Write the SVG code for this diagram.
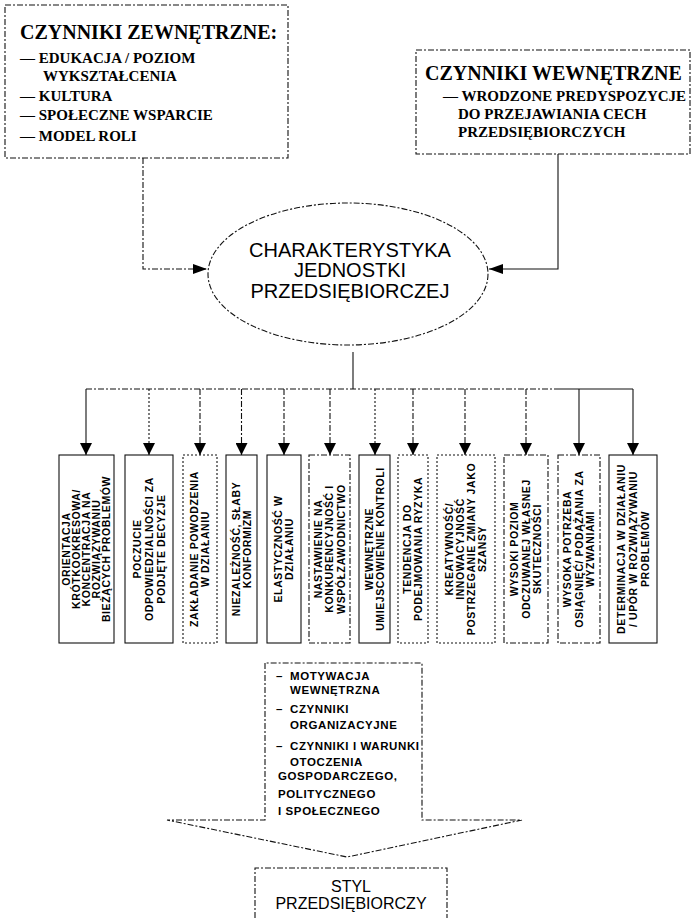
<svg xmlns="http://www.w3.org/2000/svg" width="695" height="918" viewBox="0 0 695 918">
<defs>
<style>
.bx{fill:none;stroke:#111;stroke-width:1.1}
.d{stroke-dasharray:6 2 2 2}
.dt{stroke-dasharray:2 2}
.ln{fill:none;stroke:#111;stroke-width:1.1}
.ttl{font-family:"Liberation Serif","Times New Roman",serif;font-weight:bold;font-size:20px;fill:#000}
.itm{font-family:"Liberation Serif","Times New Roman",serif;font-weight:bold;font-size:15px;fill:#000}
.ell{font-family:"Liberation Sans",Arial,sans-serif;font-size:20px;fill:#000;text-anchor:middle}
.vt{font-family:"Liberation Sans",Arial,sans-serif;font-weight:bold;font-size:10.5px;letter-spacing:0.6px;fill:#000;text-anchor:middle}
.mt{font-family:"Liberation Sans",Arial,sans-serif;font-weight:bold;font-size:11.5px;letter-spacing:0.6px;fill:#000}
.st{font-family:"Liberation Sans",Arial,sans-serif;font-size:16px;fill:#000;text-anchor:middle}
</style>
<marker id="ah" viewBox="0 0 12 12" refX="12" refY="6" markerWidth="12" markerHeight="12" markerUnits="userSpaceOnUse" orient="auto"><path d="M0,0 L12,6 L0,12 z" fill="#000"/></marker>
<marker id="ahs" viewBox="0 0 14 10" refX="14" refY="5" markerWidth="14" markerHeight="10" markerUnits="userSpaceOnUse" orient="auto"><path d="M0,0 L14,5 L0,10 z" fill="#000"/></marker>
</defs>
<rect width="695" height="918" fill="#fff"/>

<g id="external">
<rect class="bx d" x="5" y="5" width="283" height="153"/>
<text class="ttl" x="20" y="39">CZYNNIKI ZEWNĘTRZNE:</text>
<text class="itm" x="20" y="63">— EDUKACJA / POZIOM</text>
<text class="itm" x="43" y="81">WYKSZTAŁCENIA</text>
<text class="itm" x="20" y="101">— KULTURA</text>
<text class="itm" x="20" y="120">— SPOŁECZNE WSPARCIE</text>
<text class="itm" x="20" y="141">— MODEL ROLI</text>
</g>

<g id="internal">
<rect class="bx d" x="416" y="50" width="274" height="104"/>
<text class="ttl" x="425" y="80">CZYNNIKI WEWNĘTRZNE</text>
<text class="itm" x="443" y="101">— WRODZONE PREDYSPOZYCJE</text>
<text class="itm" x="458" y="119">DO PRZEJAWIANIA CECH</text>
<text class="itm" x="458" y="137">PRZEDSIĘBIORCZYCH</text>
</g>

<g id="characteristics">
<ellipse class="bx d" cx="348" cy="274" rx="140" ry="71"/>
<text class="ell" x="350" y="257">CHARAKTERYSTYKA</text>
<text class="ell" x="350" y="277">JEDNOSTKI</text>
<text class="ell" x="350" y="298">PRZEDSIĘBIORCZEJ</text>
</g>

<g id="connectors">
<path class="ln d" d="M143,158 V269 H207" marker-end="url(#ahs)"/>
<path class="ln" d="M558,154 V269 H489" marker-end="url(#ahs)"/>
<path class="ln" d="M353,352 V389"/>
<path class="ln d" d="M86,389 H560"/>
<path class="ln" d="M560,389 H633"/>
<path class="ln" d="M86,389 V455" marker-end="url(#ah)"/>
<path class="ln dt" d="M149,389 V455" marker-end="url(#ah)"/>
<path class="ln d" d="M200,389 V455" marker-end="url(#ah)"/>
<path class="ln d" d="M241.5,389 V455" marker-end="url(#ah)"/>
<path class="ln d" d="M284,389 V455" marker-end="url(#ah)"/>
<path class="ln d" d="M330,389 V455" marker-end="url(#ah)"/>
<path class="ln dt" d="M375,389 V455" marker-end="url(#ah)"/>
<path class="ln d" d="M413,389 V455" marker-end="url(#ah)"/>
<path class="ln d" d="M465,389 V455" marker-end="url(#ah)"/>
<path class="ln d" d="M526,389 V455" marker-end="url(#ah)"/>
<path class="ln" d="M579,389 V455" marker-end="url(#ah)"/>
<path class="ln" d="M633,389 V455" marker-end="url(#ah)"/>
</g>

<g id="box1">
<rect class="bx" x="59" y="455" width="55" height="188"/>
<text class="vt" transform="translate(86.5,549) rotate(-90)"><tspan x="0" y="-16.2">ORIENTACJA</tspan><tspan x="0" y="-6.2">KRÓTKOOKRESOWA/</tspan><tspan x="0" y="3.8">KONCENTRACJA NA</tspan><tspan x="0" y="13.8">ROZWIĄZYWANIU</tspan><tspan x="0" y="23.8">BIEŻĄCYCH PROBLEMÓW</tspan></text>
</g>
<g id="box2">
<rect class="bx" x="125" y="455" width="48" height="188"/>
<text class="vt" transform="translate(149,549) rotate(-90)"><tspan x="0" y="-8.2">POCZUCIE</tspan><tspan x="0" y="3.8">ODPOWIEDZIALNOŚCI ZA</tspan><tspan x="0" y="15.8">PODJĘTE DECYZJE</tspan></text>
</g>
<g id="box3">
<rect class="bx dt" x="183" y="455" width="34" height="188"/>
<text class="vt" transform="translate(200,549) rotate(-90)"><tspan x="0" y="-1.7">ZAKŁADANIE POWODZENIA</tspan><tspan x="0" y="9.3">W DZIAŁANIU</tspan></text>
</g>
<g id="box4">
<rect class="bx" x="226" y="455" width="31" height="188"/>
<text class="vt" transform="translate(241.5,549) rotate(-90)"><tspan x="0" y="-1.7">NIEZALEŻNOŚĆ, SŁABY</tspan><tspan x="0" y="9.3">KONFORMIZM</tspan></text>
</g>
<g id="box5">
<rect class="bx" x="267" y="455" width="34" height="188"/>
<text class="vt" transform="translate(284,549) rotate(-90)"><tspan x="0" y="-1.7">ELASTYCZNOŚĆ W</tspan><tspan x="0" y="9.3">DZIAŁANIU</tspan></text>
</g>
<g id="box6">
<rect class="bx d" x="309" y="455" width="41" height="188"/>
<text class="vt" transform="translate(329.5,549) rotate(-90)"><tspan x="0" y="-7.7">NASTAWIENIE NA</tspan><tspan x="0" y="3.8">KONKURENCYJNOŚĆ I</tspan><tspan x="0" y="15.3">WSPÓŁZAWODNICTWO</tspan></text>
</g>
<g id="box7">
<rect class="bx" x="359" y="455" width="31" height="188"/>
<text class="vt" transform="translate(374.5,549) rotate(-90)"><tspan x="0" y="-1.7">WEWNĘTRZNE</tspan><tspan x="0" y="9.3">UMIEJSCOWIENIE KONTROLI</tspan></text>
</g>
<g id="box8">
<rect class="bx dt" x="398" y="455" width="30" height="188"/>
<text class="vt" transform="translate(413,549) rotate(-90)"><tspan x="0" y="-1.7">TENDENCJA DO</tspan><tspan x="0" y="9.3">PODEJMOWANIA RYZYKA</tspan></text>
</g>
<g id="box9">
<rect class="bx dt" x="437" y="455" width="58" height="188"/>
<text class="vt" transform="translate(466,549) rotate(-90)"><tspan x="0" y="-12.7">KREATYWNOŚĆ/</tspan><tspan x="0" y="-1.7">INNOWACYJNOŚĆ</tspan><tspan x="0" y="9.3">POSTRZEGANIE ZMIANY JAKO</tspan><tspan x="0" y="20.3">SZANSY</tspan></text>
</g>
<g id="box10">
<rect class="bx d" x="504" y="455" width="44" height="188"/>
<text class="vt" transform="translate(526,549) rotate(-90)"><tspan x="0" y="-7.7">WYSOKI POZIOM</tspan><tspan x="0" y="3.8">ODCZUWANEJ WŁASNEJ</tspan><tspan x="0" y="15.3">SKUTECZNOŚCI</tspan></text>
</g>
<g id="box11">
<rect class="bx d" x="558" y="455" width="42" height="188"/>
<text class="vt" transform="translate(579,549) rotate(-90)"><tspan x="0" y="-7.7">WYSOKA POTRZEBA</tspan><tspan x="0" y="3.8">OSIĄGNIĘĆ/ PODĄŻANIA ZA</tspan><tspan x="0" y="15.3">WYZWANIAMI</tspan></text>
</g>
<g id="box12">
<rect class="bx" x="609" y="455" width="48" height="188"/>
<text class="vt" transform="translate(633,549) rotate(-90)"><tspan x="0" y="-8.2">DETERMINACJA W DZIAŁANIU</tspan><tspan x="0" y="3.8">/ UPÓR W ROZWIĄZYWANIU</tspan><tspan x="0" y="15.8">PROBLEMÓW</tspan></text>
</g>

<g id="motivation">
<path class="bx d" d="M265,663 V820 H167 L347,857 L522,820 H422 V663 Z"/>
<text class="mt" x="276" y="680">–</text>
<text class="mt" x="290" y="680">MOTYWACJA</text>
<text class="mt" x="290" y="694">WEWNĘTRZNA</text>
<text class="mt" x="276" y="713">–</text>
<text class="mt" x="290" y="713">CZYNNIKI</text>
<text class="mt" x="290" y="729">ORGANIZACYJNE</text>
<text class="mt" x="276" y="750">–</text>
<text class="mt" x="290" y="750">CZYNNIKI I WARUNKI</text>
<text class="mt" x="290" y="766">OTOCZENIA</text>
<text class="mt" x="278" y="780">GOSPODARCZEGO,</text>
<text class="mt" x="278" y="798">POLITYCZNEGO</text>
<text class="mt" x="278" y="815">I SPOŁECZNEGO</text>
</g>

<g id="style">
<path class="bx d" d="M255,918 V868 H447 V918"/>
<text class="st" x="351" y="892">STYL</text>
<text class="st" x="351" y="909">PRZEDSIĘBIORCZY</text>
</g>
</svg>
